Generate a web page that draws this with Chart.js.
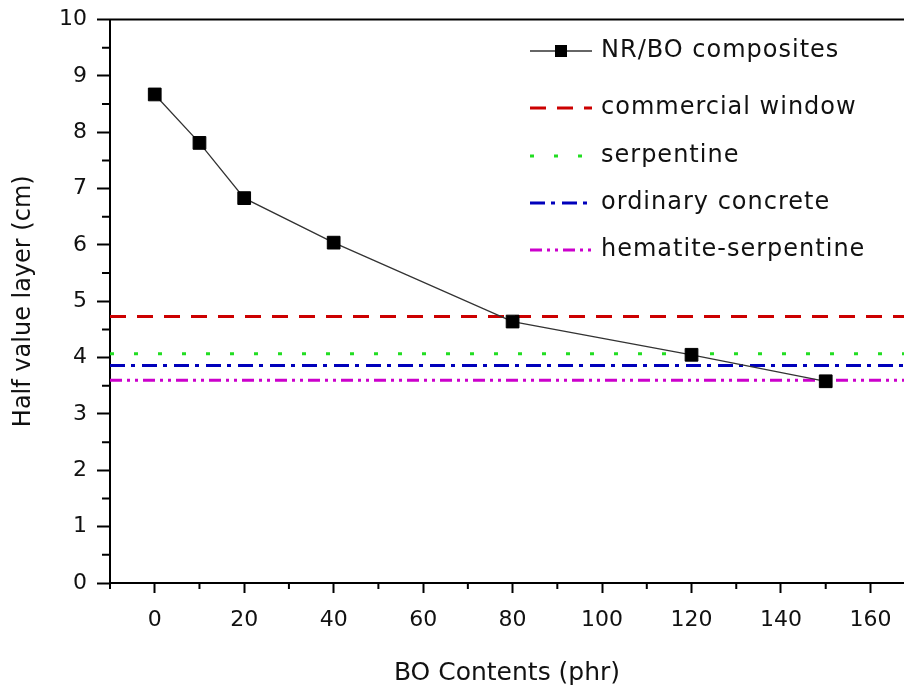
<!DOCTYPE html>
<html>
<head>
<meta charset="utf-8">
<script src="https://cdn.jsdelivr.net/npm/chart.js@4/dist/chart.umd.min.js"></script>
<style>
  html, body { margin: 0; padding: 0; background: #fff; overflow: hidden; }
  #wrap { width: 904px; height: 688px; }
</style>
</head>
<body>
<div id="wrap"><canvas id="hvlChart"></canvas></div>
<script>
// values
const boContents = [0, 10, 20, 40, 80, 120, 150];
const hvlValues = [8.67, 7.81, 6.83, 6.04, 4.64, 4.05, 3.58];

const refNames = ['commercial window', 'serpentine', 'ordinary concrete', 'hematite-serpentine'];
const refValues = [4.73, 4.07, 3.86, 3.60];
const refColors = ['#cc0000', '#22dd22', '#0000bb', '#cc00cc'];
const refDashes = [[16, 11], [4, 20], [15, 6, 4, 7], [12, 5, 3, 5, 3, 5]];

const xTicks = [0, 20, 40, 60, 80, 100, 120, 140, 160];
const xMinorTicks = [-10, 10, 30, 50, 70, 90, 110, 130, 150];
const yMinorTicks = [0.5, 1.5, 2.5, 3.5, 4.5, 5.5, 6.5, 7.5, 8.5, 9.5];
const xRange = [-10, 167.5];
const yRange = [0, 10];

const FONT = "'DejaVu Sans', Verdana, sans-serif";

const datasets = [{
    label: 'NR/BO composites',
    data: boContents.map((x, i) => ({ x: x, y: hvlValues[i] })),
    showLine: true,
    borderColor: '#333',
    borderWidth: 1.3,
    pointStyle: 'rect',
    pointRadius: 9,
    pointBackgroundColor: '#000',
    pointBorderColor: '#000',
    pointBorderWidth: 1
}];
refNames.forEach((name, i) => {
    datasets.push({
        label: name,
        data: [{ x: xRange[0], y: refValues[i] }, { x: 180, y: refValues[i] }],
        showLine: true,
        borderColor: refColors[i],
        borderWidth: 3,
        borderDash: refDashes[i],
        pointRadius: 0
    });
});

// top frame line + minor ticks
const framePlugin = {
    id: 'frame',
    afterDraw(chart) {
        const { ctx, chartArea, scales } = chart;
        ctx.save();
        ctx.strokeStyle = '#000';
        ctx.lineWidth = 2;
        ctx.beginPath();
        ctx.moveTo(chartArea.left - 1, chartArea.top);
        ctx.lineTo(chartArea.right, chartArea.top);
        xMinorTicks.forEach(v => {
            const px = scales.x.getPixelForValue(v);
            ctx.moveTo(px, chartArea.bottom);
            ctx.lineTo(px, chartArea.bottom + 6);
        });
        yMinorTicks.forEach(v => {
            const py = scales.y.getPixelForValue(v);
            ctx.moveTo(chartArea.left, py);
            ctx.lineTo(chartArea.left - 8, py);
        });
        ctx.stroke();
        ctx.restore();
    }
};

// legend drawn inside the plot, top right
const legendPlugin = {
    id: 'insideLegend',
    afterDraw(chart) {
        const ctx = chart.ctx;
        const rowsY = [51, 108, 156, 203, 250];
        const x0 = 530, x1 = 592, tx = 601;
        ctx.save();
        ctx.font = '24px ' + FONT;
        ctx.letterSpacing = '1px';
        ctx.textBaseline = 'middle';
        ctx.fillStyle = '#111';
        chart.data.datasets.forEach((ds, i) => {
            const y = rowsY[i];
            ctx.save();
            ctx.strokeStyle = ds.borderColor;
            ctx.lineWidth = i === 0 ? 1.3 : 3;
            ctx.setLineDash(ds.borderDash || []);
            ctx.beginPath();
            ctx.moveTo(x0, y);
            ctx.lineTo(x1, y);
            ctx.stroke();
            ctx.restore();
            if (i === 0) {
                ctx.fillStyle = '#000';
                ctx.fillRect((x0 + x1) / 2 - 6, y - 6, 12, 12);
                ctx.fillStyle = '#111';
            }
            ctx.fillText(ds.label, tx, y);
        });
        ctx.restore();
    }
};

function noPad(scale) {
    scale.paddingLeft = 0;
    scale.paddingRight = 0;
    scale.paddingTop = 0;
    scale.paddingBottom = 0;
}

const ctx = document.getElementById('hvlChart').getContext('2d');
new Chart(ctx, {
    type: 'scatter',
    data: { datasets: datasets },
    options: {
        responsive: true,
        maintainAspectRatio: false,
        animation: false,
        layout: { autoPadding: false, padding: { top: 19.5, right: 0, left: 0, bottom: 0 } },
        plugins: {
            legend: { display: false },
            tooltip: { enabled: false }
        },
        scales: {
            x: {
                type: 'linear',
                min: xRange[0],
                max: xRange[1],
                afterBuildTicks: scale => { scale.ticks = xTicks.map(v => ({ value: v })); },
                afterFit: scale => { scale.height = 105; noPad(scale); },
                grid: { drawOnChartArea: false, tickLength: 10, tickWidth: 2, tickColor: '#000' },
                border: { display: true, color: '#000', width: 2 },
                ticks: { font: { family: FONT, size: 22 }, color: '#111', padding: 14, maxRotation: 0 },
                title: {
                    display: true,
                    text: 'BO Contents (phr)',
                    font: { family: FONT, size: 25 },
                    color: '#111',
                    padding: { top: 0, bottom: 0 }
                }
            },
            y: {
                min: yRange[0],
                max: yRange[1],
                afterFit: scale => { scale.width = 110; noPad(scale); },
                grid: { drawOnChartArea: false, tickLength: 13, tickWidth: 2, tickColor: '#000' },
                border: { display: true, color: '#000', width: 2 },
                ticks: { stepSize: 1, font: { family: FONT, size: 22 }, color: '#111', padding: 10 },
                title: {
                    display: true,
                    text: 'Half value layer (cm)',
                    font: { family: FONT, size: 24 },
                    color: '#111',
                    padding: { top: 9, bottom: 0 }
                }
            }
        }
    },
    plugins: [framePlugin, legendPlugin]
});
</script>
</body>
</html>
